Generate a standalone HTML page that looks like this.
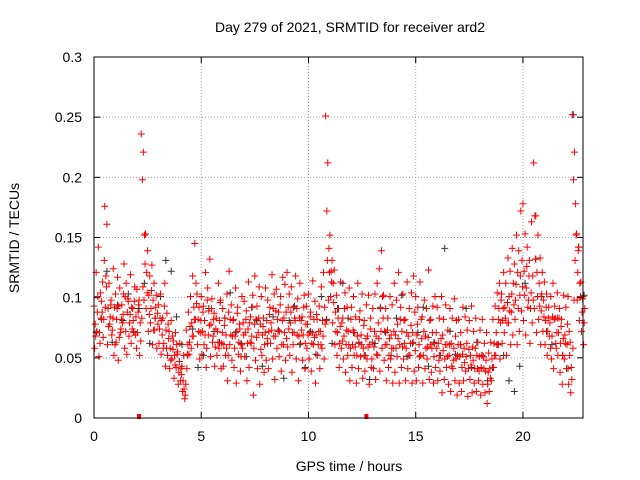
<!DOCTYPE html>
<html><head><meta charset="utf-8"><style>
body{margin:0;background:#fff}
svg{display:block;font-family:"Liberation Sans",sans-serif}
</style></head><body>
<svg id="c" width="640" height="480">
<rect width="640" height="480" fill="#fff"/>
<g id="grid"></g>
<g id="marks"></g>
<rect x="94" y="57" width="489" height="361" fill="none" stroke="#000" stroke-width="1"/>
<g id="axes"></g>
<text x="350" y="32" font-size="14" text-anchor="middle">Day 279 of 2021, SRMTID for receiver ard2</text>
<text x="349" y="471" font-size="14" text-anchor="middle">GPS time / hours</text>
<text transform="translate(19,238) rotate(-90)" font-size="14" text-anchor="middle">SRMTID / TECUs</text>
</svg>
<script>
const xTicks=[0,5,10,15,20];
const yTicks=[0,0.05,0.1,0.15,0.2,0.25,0.3];
const yTickLabels=["0","0.05","0.1","0.15","0.2","0.25","0.3"];
const ry1=[.093,.121,.142,.104,.113,.176,.161,.112,.098,.124,
.103,.117,.108,.094,.128,.112,.097,.119,.091,.109,
.107,.098,.236,.221,.153,.139,.118,.127,.112,.102,
.094,.103,.083,.112,.087,.072,.081,.064,.071,.055,
.062,.043,.024,.073,.088,.101,.118,.145,.103,.092,
.101,.093,.121,.108,.132,.099,.087,.083,.112,.098,
.091,.083,.103,.122,.094,.082,.108,.092,.074,.101,
.097,.089,.113,.084,.102,.118,.093,.109,.101,.083,
.108,.098,.092,.119,.103,.107,.088,.101,.117,.111,
.121,.103,.109,.092,.118,.099,.112,.084,.102,.093,
.103,.088,.114,.097,.082,.093,.109,.121,.251,.212,
.152,.131,.123,.102,.091,.113,.083,.104,.092,.108,
.092,.101,.084,.112,.089,.103,.081,.094,.102,.083,
.091,.103,.112,.124,.139,.102,.091,.083,.101,.094,
.112,.098,.121,.092,.103,.082,.113,.091,.104,.118,
.101,.092,.113,.084,.098,.091,.123,.082,.093,.101,
.092,.083,.101,.082,.094,.073,.091,.083,.099,.081,
.082,.071,.092,.084,.073,.081,.093,.072,.083,.063,
.073,.082,.062,.071,.054,.063,.082,.093,.104,.112,
.103,.121,.112,.133,.122,.141,.128,.152,.139,.172,
.178,.153,.142,.131,.163,.212,.168,.152,.133,.121,
.113,.103,.092,.101,.112,.083,.104,.091,.082,.102,
.092,.101,.063,.252,.221,.153,.142,.113,.101];
const ry2=[.058,.072,.051,.083,.067,.092,.061,.078,.069,.052,
.063,.048,.071,.079,.058,.053,.068,.062,.081,.069,
.071,.052,.083,.098,.091,.072,.079,.061,.073,.058,
.062,.053,.058,.043,.052,.041,.049,.033,.042,.028,
.031,.022,.016,.041,.053,.058,.068,.082,.061,.049,
.053,.061,.042,.069,.051,.063,.043,.052,.058,.041,
.043,.052,.031,.061,.048,.042,.029,.053,.039,.058,
.051,.031,.042,.062,.019,.048,.041,.028,.052,.038,
.048,.041,.062,.049,.032,.058,.051,.039,.061,.048,
.059,.052,.038,.071,.049,.031,.062,.048,.041,.058,
.049,.039,.061,.029,.052,.041,.058,.049,.081,.098,
.101,.079,.061,.052,.042,.058,.049,.038,.052,.031,
.042,.052,.029,.041,.051,.033,.039,.049,.028,.042,
.041,.032,.052,.039,.058,.048,.031,.042,.049,.029,
.038,.051,.029,.042,.049,.031,.041,.052,.029,.039,
.031,.042,.052,.029,.041,.049,.032,.038,.029,.042,
.031,.039,.021,.032,.042,.028,.022,.041,.031,.019,
.029,.022,.031,.039,.018,.032,.021,.029,.022,.031,
.019,.028,.021,.012,.022,.031,.042,.052,.061,.049,
.062,.071,.052,.079,.061,.069,.082,.061,.072,.089,
.081,.069,.092,.062,.079,.091,.071,.082,.061,.072,
.061,.052,.068,.049,.041,.062,.052,.038,.028,.049,
.041,.028,.021,.058,.131,.098,.081,.072,.061];
const ry3=[.078,.088,.071,.097,.082,.118,.091,.084,.073,.092,
.082,.093,.074,.086,.101,.088,.079,.092,.071,.084,
.088,.079,.198,.152,.121,.102,.091,.098,.083,.087,
.074,.081,.062,.073,.078,.058,.068,.052,.061,.038,
.041,.031,.019,.052,.063,.079,.092,.112,.082,.071,
.072,.081,.058,.089,.078,.068,.059,.072,.081,.062,
.061,.069,.052,.082,.068,.058,.072,.063,.051,.079,
.071,.062,.079,.068,.058,.082,.071,.078,.069,.061,
.081,.072,.079,.091,.068,.082,.072,.061,.083,.088,
.092,.079,.071,.083,.091,.068,.081,.069,.062,.078,
.071,.062,.082,.069,.061,.072,.081,.092,.172,.141,
.122,.112,.088,.071,.062,.079,.068,.061,.072,.058,
.061,.071,.052,.062,.069,.058,.052,.068,.061,.049,
.059,.068,.079,.091,.101,.072,.061,.052,.069,.058,
.069,.078,.061,.072,.081,.058,.068,.062,.071,.088,
.069,.061,.082,.052,.068,.059,.081,.058,.051,.071,
.062,.052,.069,.049,.061,.052,.062,.048,.068,.052,
.051,.042,.058,.051,.041,.052,.059,.041,.052,.039,
.042,.051,.039,.028,.041,.049,.062,.071,.082,.079,
.081,.092,.079,.101,.088,.112,.098,.121,.102,.131,
.122,.108,.098,.091,.118,.168,.121,.112,.089,.098,
.081,.072,.079,.068,.082,.058,.071,.062,.052,.069,
.061,.072,.042,.198,.178,.121,.112,.088,.079];
const ry4=[.068,.101,.062,.088,.131,.109,.076,.094,.083,.061,
.091,.067,.082,.103,.072,.099,.086,.074,.097,.058,
.094,.064,.109,.128,.104,.086,.106,.073,.092,.078,
.083,.069,.093,.058,.066,.048,.057,.044,.053,.047,
.036,.052,.028,.061,.076,.068,.082,.095,.072,.081,
.088,.069,.098,.077,.091,.082,.074,.063,.096,.071,
.077,.058,.088,.069,.081,.068,.087,.078,.061,.069,
.082,.074,.063,.092,.078,.067,.083,.057,.076,.071,
.066,.086,.073,.068,.089,.072,.094,.081,.071,.066,
.074,.088,.061,.081,.069,.083,.073,.092,.078,.069,
.084,.071,.067,.086,.072,.061,.068,.078,.131,.121,
.113,.096,.072,.083,.076,.064,.091,.073,.061,.082,
.073,.059,.068,.082,.061,.077,.066,.059,.074,.063,
.072,.053,.066,.072,.083,.061,.073,.066,.058,.072,
.058,.066,.082,.059,.062,.071,.052,.077,.063,.056,
.078,.051,.066,.072,.058,.067,.061,.071,.062,.058,
.048,.066,.056,.061,.051,.061,.043,.058,.049,.061,
.061,.053,.046,.062,.057,.044,.048,.058,.041,.051,
.052,.041,.048,.038,.033,.042,.052,.061,.091,.098,
.091,.083,.096,.089,.103,.094,.111,.091,.118,.109,
.102,.126,.118,.104,.098,.132,.101,.093,.103,.084,
.092,.083,.058,.084,.093,.071,.083,.076,.066,.062,
.078,.052,.032,.098,.152,.139,.101,.099,.091];
const kb=[.071,.082,.122,.063,.094,.081,.103,.072,.091,.112,.062,.083,.101,.131,.122,.084,.061,.053,.074,.042,
.052,.091,.072,.063,.083,.104,.071,.062,.051,.092,.081,.043,.062,.084,.073,.033,.081,.093,.061,.042,
.072,.053,.101,.082,.062,.091,.112,.083,.071,.063,.052,.032,.062,.092,.071,.052,.083,.102,.051,.062,
.071,.092,.043,.063,.052,.141,.072,.053,.061,.091,.042,.063,.052,.031,.042,.061,.052,.031,.022,.043,
.112,.091,.132,.101,.072,.061,.083,.052,.041,.252,.142,.102];
const xMin=0,xMax=22.8,yMin=0,yMax=0.3,L=94,R=583,T=57,B=418;
const sx=v=>L+(v-xMin)/(xMax-xMin)*(R-L);
const sy=v=>B-(v-yMin)/(yMax-yMin)*(B-T);
const NS="http://www.w3.org/2000/svg";
function mk(tag,attrs,parent){const e=document.createElementNS(NS,tag);for(const k in attrs)e.setAttribute(k,attrs[k]);parent.appendChild(e);return e;}
const grid=document.getElementById('grid'),axes=document.getElementById('axes'),marks=document.getElementById('marks');
xTicks.forEach(v=>{const x=sx(v);
 const g=mk('line',{x1:x,x2:x,y1:T,y2:B,stroke:'#a0a0a0','stroke-dasharray':'1,2'},grid);
 
 
 mk('line',{x1:x,x2:x,y1:B,y2:B-6,stroke:'#000'},axes);
 mk('line',{x1:x,x2:x,y1:T,y2:T+6,stroke:'#000'},axes);
 const t=mk('text',{x:x,y:B+23,'font-size':14,'text-anchor':'middle'},axes);t.textContent=v;
 
 });
yTicks.forEach((v,i)=>{const y=sy(v);
 const g=mk('line',{x1:L,x2:R,y1:y,y2:y,stroke:'#a0a0a0','stroke-dasharray':'1,2'},grid);
 
 
 mk('line',{x1:L,x2:L+6,y1:y,y2:y,stroke:'#000'},axes);
 mk('line',{x1:R,x2:R-6,y1:y,y2:y,stroke:'#000'},axes);
 const t=mk('text',{x:L-12,y:y+5,'font-size':14,'text-anchor':'end'},axes);t.textContent=yTickLabels[i];
 
 });
function plus(t,v,col,name){const x=sx(t),y=sy(v);
 const p=mk('path',{d:`M${x-3.5},${y}h7M${x},${y-3.5}v7`,stroke:col,'stroke-width':1,fill:'none'},marks);
 
 }
kb.forEach((v,i)=>plus(i*0.25+0.1,v,'#333','black-point'));
ry4.forEach((v,i)=>plus(i*0.1+0.08,v,'#f00','red-point'));
ry2.forEach((v,i)=>plus(i*0.1+0.03,v,'#f00','red-point'));
ry3.forEach((v,i)=>plus(i*0.1+0.055,v,'#f00','red-point'));
ry1.forEach((v,i)=>plus(i*0.1,v,'#f00','red-point'));
[2.1,12.7].forEach(t=>{const r=mk('rect',{x:sx(t)-2,y:B-4,width:4,height:5,fill:'#f00'},marks);
 
 });
</script>
</body></html>
